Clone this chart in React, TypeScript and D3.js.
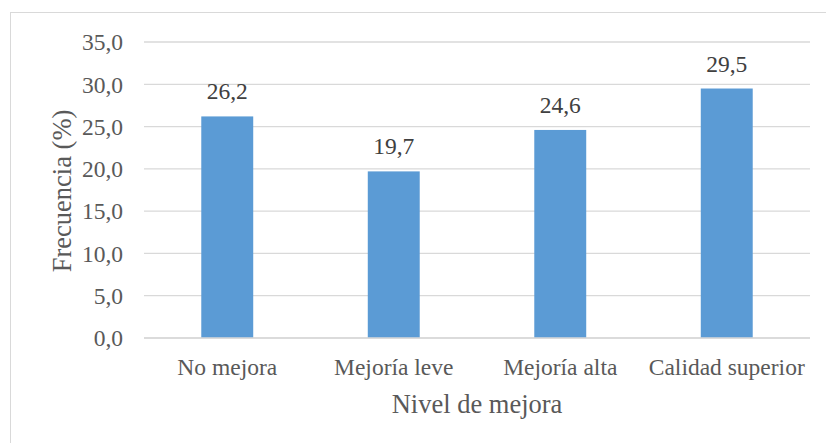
import React from "react";
import * as d3 from "d3";

const categories = ["No mejora", "Mejoría leve", "Mejoría alta", "Calidad superior"];
const values = [26.2, 19.7, 24.6, 29.5];
const yTicks = [0, 5, 10, 15, 20, 25, 30, 35];
const xTitle = "Nivel de mejora";
const yTitle = "Frecuencia (%)";

const W = 826;
const H = 443;
const font = "Liberation Serif, Tinos, Times New Roman, DejaVu Serif, serif";
const textColor = "#595959";

export default function App() {
  const x = d3.scaleBand<string>().domain(categories).range([144, 810]).paddingInner(0.688).paddingOuter(0.344);
  const y = d3.scaleLinear().domain([0, 35]).range([338, 42]);
  const fmt = (v: number) => v.toFixed(1).replace(".", ",");
  const ts = { fontFamily: font };
  return (
    <svg width={W} height={H} style={{ position: "absolute", left: 0, top: 0, background: "#fff" }}>
      <rect x={10.5} y={12.5} width={830} height={450} fill="#fff" stroke="#d9d9d9" strokeWidth={1} />
      {yTicks.map((t) => (
        <g key={t}>
          <line x1={144} x2={810} y1={y(t)} y2={y(t)} stroke="#d9d9d9" strokeWidth={1.3} />
          <text x={123} y={y(t)} dy="0.35em" textAnchor="end" style={ts} fontSize={23.5} fill={textColor}>
            {fmt(t)}
          </text>
        </g>
      ))}
      {categories.map((c, i) => (
        <g key={c}>
          <rect x={x(c)} y={y(values[i])} width={x.bandwidth()} height={y(0) - y(values[i])} fill="#5b9bd5" />
          <text x={(x(c) as number) + x.bandwidth() / 2} y={y(values[i]) - 17} textAnchor="middle" style={ts} fontSize={23.5} fill="#404040">
            {fmt(values[i])}
          </text>
          <text x={(x(c) as number) + x.bandwidth() / 2} y={375} textAnchor="middle" style={ts} fontSize={23.5} fill={textColor}>
            {c}
          </text>
        </g>
      ))}
      <line x1={144} x2={810} y1={y(0)} y2={y(0)} stroke="#d9d9d9" strokeWidth={1.3} />
      <text x={477} y={413} textAnchor="middle" style={ts} fontSize={26.5} fill={textColor}>
        {xTitle}
      </text>
      <text transform={`translate(71, 191) rotate(-90)`} textAnchor="middle" style={ts} fontSize={26.5} fill={textColor}>
        {yTitle}
      </text>
    </svg>
  );
}
